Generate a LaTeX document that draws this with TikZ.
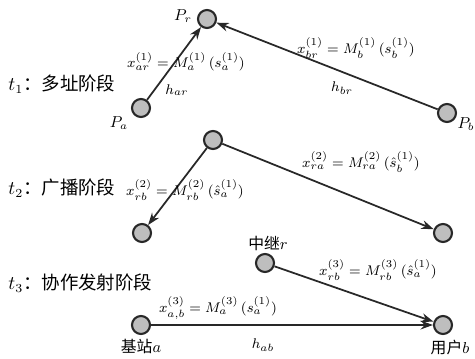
\documentclass[tikz,border=0pt]{standalone}
\usepackage{fontspec}
\usepackage{amsmath}
\usepackage{tikz}
\usetikzlibrary{arrows.meta,positioning}
\newfontfamily\cjk{Noto Sans CJK SC}
\definecolor{nodeGray}{RGB}{190,190,190}
\definecolor{edgeDark}{RGB}{40,40,40}

\tikzset{
  terminal/.style={circle,draw=edgeDark,fill=nodeGray,line width=1.2pt,
                   minimum size=0.36cm,inner sep=0pt},
  link/.style={-{Stealth[length=7pt,width=5pt]},edgeDark,line width=1pt},
  msg/.style={font=\footnotesize,inner sep=0pt},
  stagelbl/.style={anchor=west,font=\fontsize{10.5}{12}\selectfont\cjk,inner sep=0pt},
  namelbl/.style={font=\fontsize{9}{11}\selectfont,inner sep=0pt}
}

\begin{document}
\begin{tikzpicture}[x=0.02cm,y=-0.02cm]
        \useasboundingbox (0,0) rectangle (475,358);
        % t1: multiple access
        \node[terminal] (pr) at (207,19){};
        \node[terminal] (pa) at (141,108){};
        \node[terminal] (pb) at (447,113){};
        \node[namelbl] at (183,16){$P_r$};
        \node[namelbl] at (119,123){$P_a$};
        \node[namelbl] at (466,124){$P_b$};
        \draw[link] (pa)--(pr);
        \draw[link] (pb)--(pr);
        \node[msg] at (186,62){$x^{(1)}_{ar}=M^{(1)}_{a}\,(s^{(1)}_{a})$};
        \node[msg] at (356,48){$x^{(1)}_{br}=M^{(1)}_{b}\,(s^{(1)}_{b})$};
        \node[msg] at (177,90){$h_{ar}$};
        \node[msg] at (342,88){$h_{br}$};
        \node[stagelbl] at (8,84){$t_1$：多址阶段};
        % t2: broadcast
        \node[terminal] (r2) at (213,140){};
        \node[terminal] (a2) at (142,233){};
        \node[terminal] (b2) at (443,233){};
        \draw[link] (r2)--(a2);
        \draw[link] (r2)--(b2);
        \node[msg] at (185,190){$x^{(2)}_{rb}=M^{(2)}_{rb}\,(\hat{s}^{(1)}_{a})$};
        \node[msg] at (361,162){$x^{(2)}_{ra}=M^{(2)}_{ra}\,(\hat{s}^{(1)}_{b})$};
        \node[stagelbl] at (8,188){$t_2$：广播阶段};
        % t3: cooperative transmission
        \node[terminal] (r3) at (265,263){};
        \node[terminal] (a3) at (141,325){};
        \node[terminal] (b3) at (443,325){};
        \node[namelbl] at (268,243){{\cjk 中继}$r$};
        \node[namelbl] at (141,346){{\cjk 基站}$a$};
        \node[namelbl] at (450,347){{\cjk 用户}$b$};
        \draw[link] (a3)--(b3);
        \draw[link] (r3)--(b3);
        \node[msg] at (218,308){$x^{(3)}_{a,b}=M^{(3)}_{a}\,(s^{(1)}_{a})$};
        \node[msg] at (378,270){$x^{(3)}_{rb}=M^{(3)}_{rb}\,(\hat{s}^{(1)}_{a})$};
        \node[msg] at (263,345){$h_{ab}$};
        \node[stagelbl] at (8,283){$t_3$：协作发射阶段};
      \end{tikzpicture}
\end{document}
